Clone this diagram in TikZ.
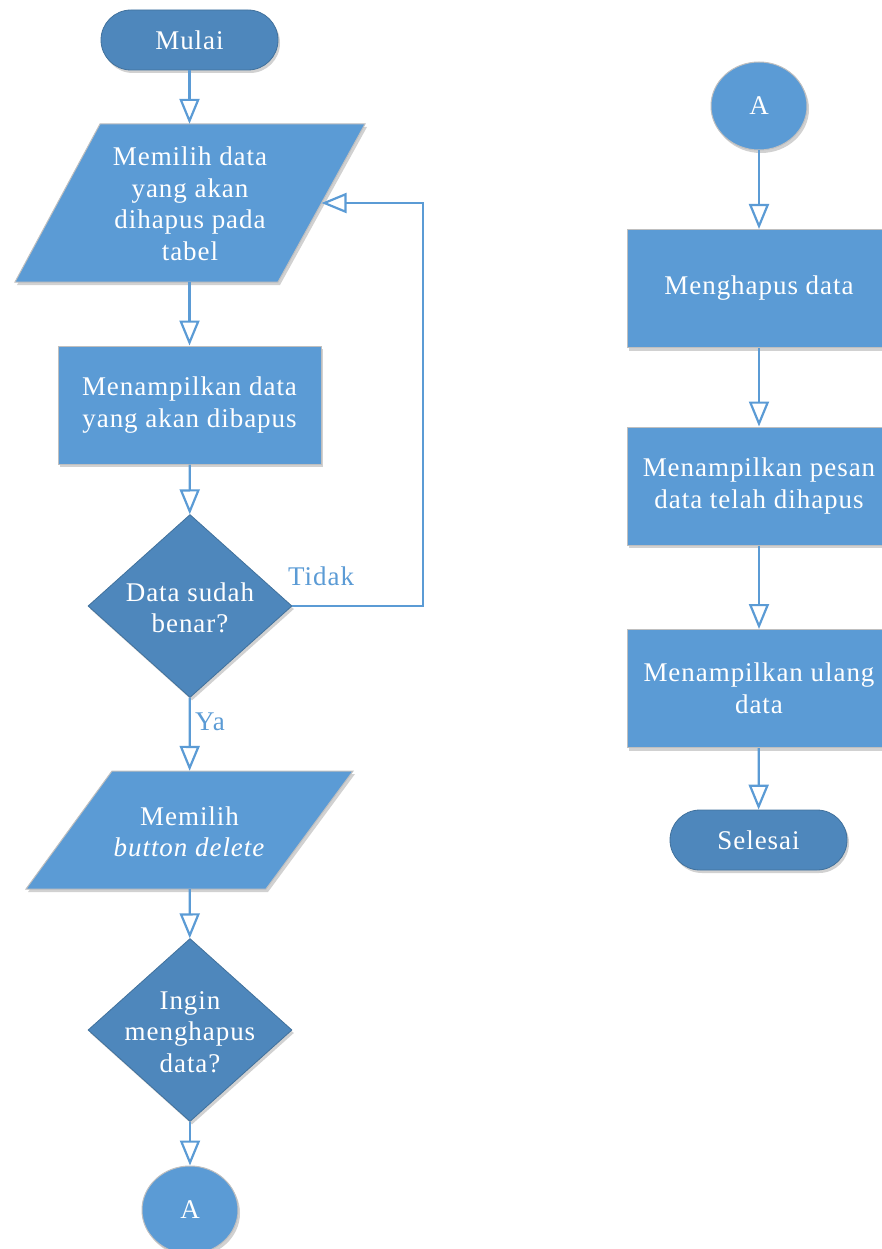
\documentclass[tikz,border=0pt]{standalone}
\usepackage{fontspec}
\setmainfont{Liberation Serif}
\newfontfamily\boxfont{Liberation Serif}[LetterSpace=3.5]
\usetikzlibrary{arrows.meta,shapes.geometric,shadows,calc}
\definecolor{boxblue}{HTML}{5B9BD5}
\definecolor{darkfill}{HTML}{4E87BC}
\definecolor{darkedge}{HTML}{41719C}
\definecolor{edgegray}{HTML}{BFBFBF}
\begin{document}
\begin{tikzpicture}[x=1pt,y=-1pt,
  txt/.style={text=white, font=\boxfont\fontsize{27}{31.5}\selectfont, align=center, inner sep=0pt},
  shade/.style={drop shadow={shadow xshift=2pt, shadow yshift=-3pt, opacity=.18, fill=black}},
  terminal/.style={rectangle, rounded corners=30pt, fill=darkfill, draw=darkedge, line width=0.8pt,
    minimum width=177pt, minimum height=60pt, txt, shade},
  process/.style={rectangle, fill=boxblue, draw=edgegray, line width=1pt,
    minimum width=263pt, minimum height=118pt, txt, shade},
  decision/.style={diamond, fill=darkfill, draw=darkedge, line width=0.8pt, inner sep=0pt,
    minimum width=204pt, minimum height=183pt, shade},
  connector/.style={ellipse, fill=boxblue, draw=edgegray, line width=1pt,
    minimum width=96pt, minimum height=88pt, txt, shade},
  iobox/.style={fill=boxblue, draw=edgegray, line width=1pt, shade},
  anchorbox/.style={rectangle, inner sep=0pt, minimum width=1pt},
  flow/.style={draw=boxblue, line width=2.2pt,
    -{Triangle[open, length=25pt, width=20pt, line width=2.2pt]}},
  branch/.style={text=boxblue, font=\boxfont\fontsize{27}{31.5}\selectfont, inner sep=0pt}
]
\useasboundingbox (0,0) rectangle (881,1249);

% ---------- left column ----------
\node[terminal] (start) at (189.5,40) {Mulai};

\path[iobox] (100,124) -- (365,124) -- (278,282) -- (15,282) -- cycle;
\node[anchorbox, minimum height=158pt] (in1) at (189.5,203) {};
\node[txt] (in1t) at (190,204) {Memilih data\\yang akan\\dihapus pada\\tabel};
\coordinate (back) at (321.5,203);

\node[process] (show) at (189.5,405) {Menampilkan data\\yang akan dibapus};

\node[decision] (ok) at (190,606) {};
\node[txt] (okt) at (190,608) {Data sudah\\benar?};

\path[iobox] (112,771) -- (353,771) -- (266,889) -- (26,889) -- cycle;
\node[anchorbox, minimum height=118pt] (in2) at (189.5,830) {};
\node[txt] (in2t) at (189.5,832) {Memilih\\\textit{button delete}};

\node[decision] (ask) at (190,1030) {};
\node[txt] (askt) at (190,1032) {Ingin\\menghapus\\data?};

\node[connector] (aout) at (190,1210) {A};

% ---------- right column ----------
\node[connector] (ain) at (759,106) {A};
\node[process, minimum width=264pt] (del) at (759,288.5) {Menghapus data};
\node[process, minimum width=264pt] (msg) at (759,486) {Menampilkan pesan\\data telah dihapus};
\node[process, minimum width=264pt] (again) at (759,688.5) {Menampilkan ulang\\data};
\node[terminal] (stop) at (758.5,840) {Selesai};

% ---------- connectors ----------
\coordinate (loop) at (423,203);
\draw[flow] (start) -- (in1);
\draw[flow] (in1) -- (show);
\draw[flow] (show) -- (ok);
\draw[flow] (ok.east) -| (loop) -- (back);
\draw[flow] (ok) -- (in2);
\draw[flow] (in2) -- (ask);
\draw[flow] (ask) -- (aout);

\draw[flow] (ain) -- (del);
\draw[flow] (del) -- (msg);
\draw[flow] (msg) -- (again);
\draw[flow] (again) -- (stop);

\node[branch, anchor=base west] (no) at (288,585) {Tidak};
\node[branch, anchor=base west] (yes) at (195,730) {Ya};
\end{tikzpicture}
\end{document}
